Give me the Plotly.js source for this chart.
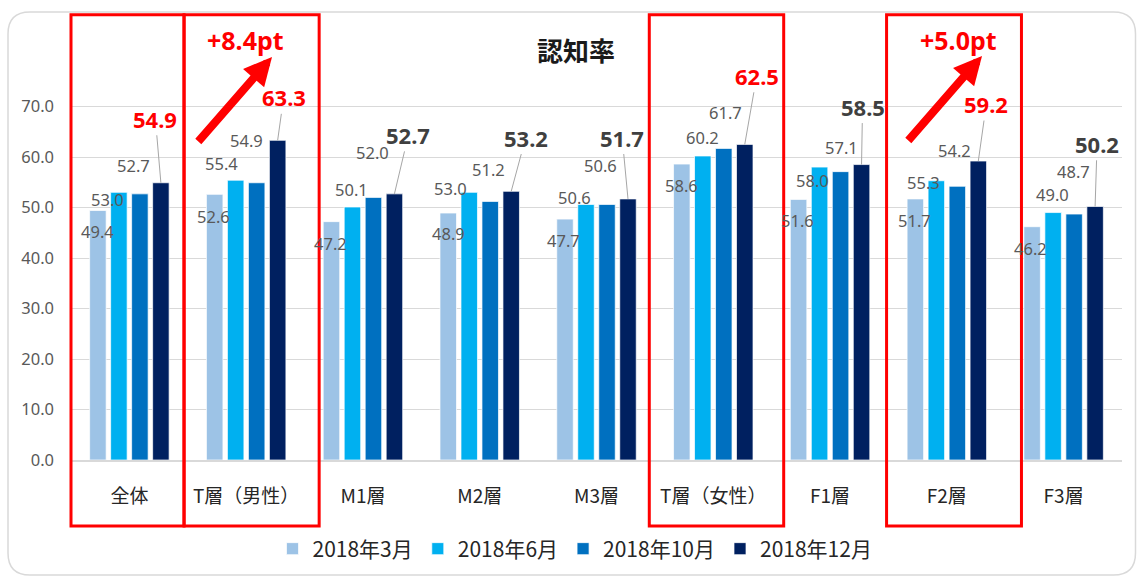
<!DOCTYPE html>
<html>
<head>
<meta charset="utf-8">
<script src="https://cdn.plot.ly/plotly-3.0.1.min.js"></script>
<style>html,body{margin:0;padding:0;background:#fff;}#chart{width:1137px;height:577px;}</style>
</head>
<body>
<div id="chart"></div>
<script>
// ---- data ----
const categories = ['全体', 'T層（男性）', 'M1層', 'M2層', 'M3層', 'T層（女性）', 'F1層', 'F2層', 'F3層'];
const seriesNames = ['2018年3月', '2018年6月', '2018年10月', '2018年12月'];
const mar2018 = [49.4, 52.6, 47.2, 48.9, 47.7, 58.6, 51.6, 51.7, 46.2];
const jun2018 = [53.0, 55.4, 50.1, 53.0, 50.6, 60.2, 58.0, 55.3, 49.0];
const oct2018 = [52.7, 54.9, 52.0, 51.2, 50.6, 61.7, 57.1, 54.2, 48.7];
const dec2018 = [54.9, 63.3, 52.7, 53.2, 51.7, 62.5, 58.5, 59.2, 50.2];
const yTickVals = [0, 10, 20, 30, 40, 50, 60, 70];
const highlighted = ['全体', 'T層（男性）', 'T層（女性）', 'F2層'];
const changeTexts = ['+8.4pt', '+5.0pt'];
const chartTitle = '認知率';

// ---- styling / positions ----
const W = 1137, H = 577;
const M = {l: 71, r: 15, t: 56, b: 117, autoexpand: false};
const PW = W - M.l - M.r, PH = H - M.t - M.b;
const px2x = p => (p - M.l) / PW;
const py2y = p => (H - M.b - p) / PH;
const colors = ['#9dc3e6', '#00b0f0', '#0070c0', '#002060'];
const bargap = 0.281, bargroupgap = 0.214;
const slot = (1 - bargap) / 4;
const FONT = '"Noto Sans", "Noto Sans CJK JP", sans-serif';
const CJK = '"Noto Sans CJK JP", "Noto Sans", sans-serif';

// label offsets in px relative to each bar top: [dx, dy(up)]
const labelOffsets = [
  [[-0.5,-21.3],[-1,-22],[-1.3,-22],[0,-20.7],[-1.4,-21.7],[0,-21.7],[-1,-21.4],[-1,-22],[-2,-21.4]],
  [[-11,-7.5],[-14,16.4],[-1,18],[-18.5,3.5],[-12,6.7],[0,18.5],[-7,-13.7],[-13,-1.8],[-1,18.5]],
  [[-6,28.4],[-10,42.3],[-1,44.6],[-2,31.6],[-6.4,38.7],[1.5,36.3],[1,24],[-3,35.8],[-1,42.6]],
  [[-5.5,64],[6,43],[14,59],[14.5,53.8],[-5.8,61.4],[12,68.6],[1,58],[8,57],[2,62.7]]
];

const seriesValues = [mar2018, jun2018, oct2018, dec2018];

const traces = seriesValues.map((vals, k) => ({
  type: 'bar',
  name: seriesNames[k],
  x: categories,
  y: vals,
  marker: {color: colors[k], line: {color: 'rgba(255,255,255,0.7)', width: 1}},
  hoverinfo: 'x+y+name'
}));

const annotations = [];
seriesValues.forEach((vals, k) => {
  vals.forEach((v, i) => {
    const xpos = i + (k - 1.5) * slot;
    const off = labelOffsets[k][i];
    if (k < 3) {
      annotations.push({
        xref: 'x', yref: 'y', x: xpos, y: v, text: v.toFixed(1),
        showarrow: false, xshift: off[0], yshift: off[1],
        font: {family: FONT, size: 16.5, color: '#595959'}
      });
    } else {
      const isRed = highlighted.includes(categories[i]);
      annotations.push({
        xref: 'x', yref: 'y', x: xpos, y: v, text: '<b>' + v.toFixed(1) + '</b>',
        showarrow: true, arrowhead: 0, arrowwidth: 1, arrowcolor: '#a6a6a6',
        axref: 'pixel', ayref: 'pixel', ax: off[0], ay: -off[1], standoff: 0,
        font: {family: FONT, size: 22, color: isRed ? '#ff0000' : '#404040'}
      });
    }
  });
});

// red growth arrows + texts
const arrows = [
  {tip: [272, 57], tail: [197, 143], text: changeTexts[0], tx: 245, ty: 40},
  {tip: [982, 56], tail: [907, 142], text: changeTexts[1], tx: 958, ty: 40}
];
arrows.forEach(a => {
  annotations.push({
    xref: 'paper', yref: 'paper', x: px2x(a.tip[0]), y: py2y(a.tip[1]), text: '',
    showarrow: true, arrowhead: 2, arrowwidth: 8, arrowsize: 0.7, arrowcolor: '#ff0000',
    axref: 'pixel', ayref: 'pixel', ax: a.tail[0] - a.tip[0], ay: a.tail[1] - a.tip[1], standoff: 0
  });
  annotations.push({
    xref: 'paper', yref: 'paper', x: px2x(a.tx), y: py2y(a.ty), text: '<b>' + a.text + '</b>',
    showarrow: false, xanchor: 'center', yanchor: 'middle',
    font: {family: FONT, size: 25, color: '#ff0000'}
  });
});

// shapes
const shapes = [];
// rounded outer border
(function(){
  const x0 = 8, y0 = 12, x1 = 1135.5, y1 = 575, r = 22;
  const X = px2x, Y = py2y;
  const d = `M${X(x0+r)},${Y(y0)} L${X(x1-r)},${Y(y0)} Q${X(x1)},${Y(y0)} ${X(x1)},${Y(y0+r)} ` +
            `L${X(x1)},${Y(y1-r)} Q${X(x1)},${Y(y1)} ${X(x1-r)},${Y(y1)} ` +
            `L${X(x0+r)},${Y(y1)} Q${X(x0)},${Y(y1)} ${X(x0)},${Y(y1-r)} ` +
            `L${X(x0)},${Y(y0+r)} Q${X(x0)},${Y(y0)} ${X(x0+r)},${Y(y0)} Z`;
  shapes.push({type: 'path', xref: 'paper', yref: 'paper', path: d, line: {color: '#d9d9d9', width: 1.5}, layer: 'below'});
})();
// red highlight boxes (edges in category-index units)
const boxEdges = [[-0.5, 0.468], [0.468, 1.625], [4.452, 5.603], [6.484, 7.639]];
const nCat = categories.length;
boxEdges.forEach(e => {
  shapes.push({
    type: 'rect', xref: 'paper', yref: 'paper',
    x0: (e[0] + 0.5) / nCat, x1: (e[1] + 0.5) / nCat,
    y0: py2y(526), y1: py2y(14.7),
    line: {color: '#ff0000', width: 3}, fillcolor: 'rgba(0,0,0,0)'
  });
});

const layout = {
  width: W, height: H,
  margin: M,
  paper_bgcolor: '#ffffff', plot_bgcolor: '#ffffff',
  barmode: 'group', bargap: bargap, bargroupgap: bargroupgap,
  title: {text: '<b>' + chartTitle + '</b>', x: 576 / W, xanchor: 'center', y: 1 - 52 / H, yanchor: 'middle', yref: 'container',
          font: {family: CJK, size: 26, color: '#1a1a1a'}},
  xaxis: {
    type: 'category', showgrid: false, showline: true, linecolor: '#d9d9d9', linewidth: 2,
    ticks: '', tickfont: {family: CJK, size: 19, color: '#262626'}, ticklabelstandoff: 18,
    range: [-0.5, nCat - 0.5], fixedrange: true, automargin: false
  },
  yaxis: {
    range: [0, 80], tickvals: yTickVals, tickformat: '.1f',
    showgrid: true, gridcolor: '#d9d9d9', gridwidth: 1, zeroline: false, showline: false,
    ticks: '', tickfont: {family: FONT, size: 16.5, color: '#595959'}, ticklabelstandoff: 16, fixedrange: true, automargin: false
  },
  legend: {
    orientation: 'h', x: px2x(575), xanchor: 'center', y: py2y(549), yanchor: 'middle',
    font: {family: CJK, size: 21, color: '#262626'}, bgcolor: 'rgba(0,0,0,0)', itemclick: false
  },
  showlegend: true,
  annotations: annotations,
  shapes: shapes
};

Plotly.newPlot('chart', traces, layout, {displayModeBar: false, staticPlot: true});
</script>
</body>
</html>
